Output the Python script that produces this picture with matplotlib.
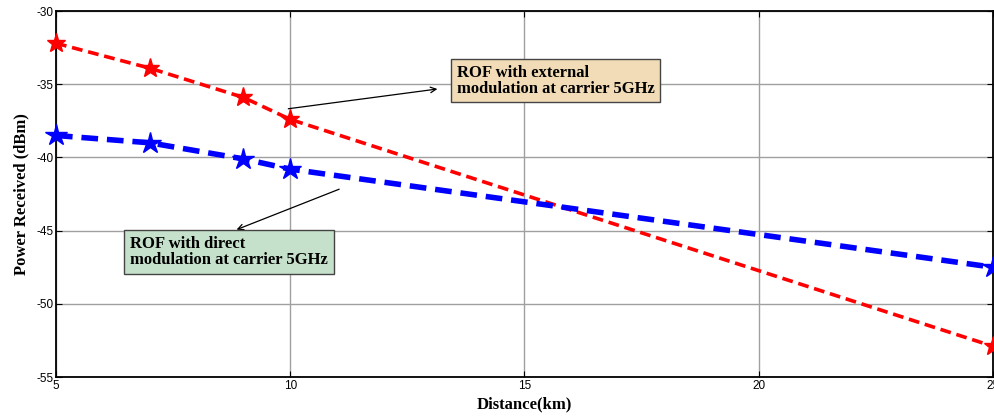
import matplotlib.pyplot as plt
from matplotlib.ticker import FuncFormatter

# distance (km) and received power (dBm)
distance = [5, 7, 9, 10, 25]
external_mod = [-32.2, -33.9, -35.9, -37.4, -52.9]
direct_mod = [-38.5, -39.0, -40.1, -40.8, -47.5]

x_ticks = [5, 10, 15, 20, 25]
y_ticks = [-55, -50, -45, -40, -35, -30]

fig = plt.figure(figsize=(9.94, 4.18), dpi=100)
ax = fig.add_axes([0.0563, 0.098, 0.9427, 0.8756])

ax.plot(distance, external_mod, color="red", linestyle=(0, (3, 1.6)), linewidth=2.6,
        marker="*", markersize=14, clip_on=False, zorder=3)
ax.plot(distance, direct_mod, color="blue", linestyle=(0, (3, 1.6)), linewidth=4.0,
        marker="*", markersize=16, clip_on=False, zorder=3)

ax.set_xlim(5, 25)
ax.set_ylim(-55, -30)
ax.set_xticks(x_ticks)
ax.set_yticks(y_ticks)
# MATLAB-style labels use a plain hyphen, not a unicode minus
ax.yaxis.set_major_formatter(FuncFormatter(lambda v, _: f"{v:.0f}".replace("\u2212", "-")))
ax.grid(True, color="#a0a0a0", linewidth=1.0)
ax.tick_params(direction="in", labelsize=8.5, length=4, pad=2, top=True, right=True)
for lbl in ax.get_xticklabels() + ax.get_yticklabels():
    lbl.set_family("Liberation Sans")
for side in ax.spines.values():
    side.set_linewidth(1.3)

label_font = dict(family="Liberation Serif", weight="bold", size=12)
ax.set_xlabel("Distance(km)", fontdict=label_font, labelpad=3)
ax.set_ylabel("Power Received (dBm)", fontdict=label_font, labelpad=5)

box_font = dict(family="Liberation Serif", weight="bold", size=12)
ax.text(13.55, -34.75, "ROF with external\nmodulation at carrier 5GHz", va="center",
        ha="left", zorder=4, linespacing=1.0,
        bbox=dict(boxstyle="square,pad=0.35", fc="#f2dcb8", ec="#444444", lw=1.0), **box_font)
ax.annotate("", xy=(13.2, -35.3), xytext=(9.9, -36.7),
            arrowprops=dict(arrowstyle="->", color="black", lw=0.9))

ax.text(6.58, -46.46, "ROF with direct\nmodulation at carrier 5GHz", va="center",
        ha="left", zorder=4, linespacing=1.0,
        bbox=dict(boxstyle="square,pad=0.35", fc="#c6e1cb", ec="#444444", lw=1.0), **box_font)
ax.annotate("", xy=(8.8, -45.0), xytext=(11.1, -42.1),
            arrowprops=dict(arrowstyle="->", color="black", lw=0.9))

fig.savefig("out.png", dpi=100)
